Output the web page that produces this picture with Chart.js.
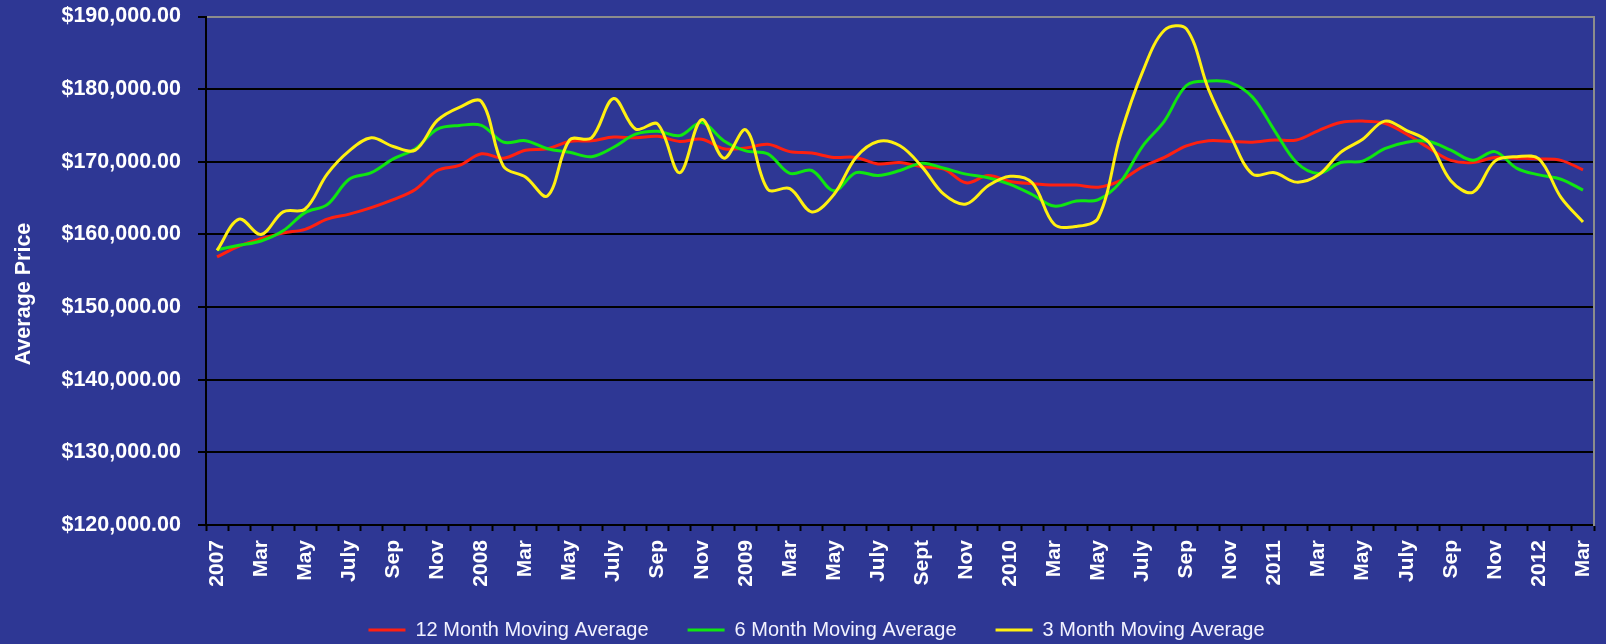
<!DOCTYPE html>
<html>
<head>
<meta charset="utf-8">
<script src="https://cdn.jsdelivr.net/npm/chart.js@4.4.1/dist/chart.umd.min.js"></script>
<style>
html,body{margin:0;padding:0;background:#2E3794;}
#wrap{width:1606px;height:644px;position:relative;}
canvas{display:block;background:#2E3794;}
</style>
</head>
<body>
<div id="wrap"><canvas id="c" width="1606" height="644"></canvas></div>
<script>
// ---- categories ----
const monthNames = ['Jan','Feb','Mar','Apr','May','Jun','Jul','Aug','Sep','Oct','Nov','Dec'];
const years = [2007, 2008, 2009, 2010, 2011, 2012];
const months = [];
years.forEach(function (y) {
  monthNames.forEach(function (m) {
    if (months.length < 63) months.push(m + ' ' + y);
  });
});

// ---- x tick labels (every second month) ----
const tickLabels = ['2007','Mar','May','July','Sep','Nov',
                    '2008','Mar','May','July','Sep','Nov',
                    '2009','Mar','May','July','Sept','Nov',
                    '2010','Mar','May','July','Sep','Nov',
                    '2011','Mar','May','July','Sep','Nov',
                    '2012','Mar'];

const seriesNames = ['12 Month Moving Average','6 Month Moving Average','3 Month Moving Average'];

// ---- series values ----
const avg12 = [156900,158400,159400,160200,160700,162100,162800,163700,164800,166200,168800,169500,
               171100,170500,171600,171800,172800,172900,173400,173300,173500,172800,173100,171800,
               171900,172400,171400,171200,170600,170600,169700,169900,169300,169000,167100,168100,
               167300,167000,166800,166800,166500,167400,169300,170600,172200,172900,172800,172700,
               173000,173000,174300,175400,175600,175300,173800,171900,170200,169900,170600,170500,
               170400,170200,168900];

const avg6 = [157900,158500,159100,160500,163000,164100,167600,168500,170400,171800,174500,175000,
              175000,172700,172900,171800,171300,170700,172000,173800,174200,173600,175400,172900,
              171500,171100,168400,168800,166000,168500,168100,168800,169800,169100,168300,167800,
              166900,165500,163900,164600,164800,167200,172100,175600,180500,181100,180900,178900,
              174300,169900,168400,169900,170100,171800,172700,172800,171600,170200,171400,169100,
              168200,167600,166100];

const avg3 = [157800,162100,160000,163100,163500,168300,171500,173300,172100,171600,175700,177500,
              178300,169400,167900,165300,173000,173300,178700,174500,175200,168500,175800,170500,
              174400,166200,166300,163100,165500,170600,172800,172200,169300,165500,164200,166700,
              168000,167100,161400,161100,162300,173600,182300,188100,188300,180000,173600,168300,
              168500,167200,168200,171300,173100,175600,174300,172700,167400,165800,170100,170700,
              170400,165100,161700];

const yTitle = 'Average Price';

// ---- styles ----
const FONT = "'Liberation Sans', Arial, sans-serif";
const colors = ['#FF2010', '#10E610', '#FFF010'];

Chart.defaults.font.family = FONT;
Chart.defaults.color = '#FFFFFF';

const yTitlePlugin = {
  id: 'yTitle',
  afterDraw(chart) {
    const ctx = chart.ctx;
    ctx.save();
    ctx.fillStyle = '#FFFFFF';
    ctx.font = "bold 21.5px " + FONT;
    ctx.textAlign = 'center';
    ctx.textBaseline = 'middle';
    ctx.translate(24, 294);
    ctx.rotate(-Math.PI / 2);
    ctx.fillText(yTitle, 0, 0);
    ctx.restore();
  }
};

const legendShift = {
  id: 'legendShift',
  afterLayout(chart) {
    if (chart.legend) {
      chart.legend.left += 27;
      chart.legend.top -= 8;
    }
  }
};

const datasets = [avg12, avg6, avg3].map(function (d, i) {
  return {
    label: seriesNames[i],
    data: d,
    borderColor: colors[i],
    backgroundColor: colors[i],
    borderWidth: 3,
    pointRadius: 0,
    pointHoverRadius: 0,
    tension: 0.35,
    fill: false,
    order: 3 - i
  };
});

new Chart(document.getElementById('c'), {
  type: 'line',
  data: { labels: months, datasets: datasets },
  options: {
    responsive: false,
    animation: false,
    events: [],
    layout: { padding: { top: 16.5, right: 0, left: 0, bottom: 0 } },
    plugins: {
      tooltip: { enabled: false },
      legend: {
        position: 'bottom',
        maxHeight: 55,
        labels: {
          boxWidth: 37,
          boxHeight: 3,
          padding: 39,
          color: '#F2F2FF',
          font: { size: 20, family: FONT },
          sort: function (a, b) { return a.datasetIndex - b.datasetIndex; },
          generateLabels: function (chart) {
            return Chart.defaults.plugins.legend.labels.generateLabels(chart).map(function (l) {
              l.lineWidth = 0;
              return l;
            });
          }
        }
      }
    },
    scales: {
      x: {
        offset: true,
        grid: { offset: true, drawOnChartArea: false, drawTicks: true, tickLength: 6, tickColor: '#000000', tickWidth: 2 },
        border: { color: '#000000', width: 2 },
        ticks: {
          autoSkip: false,
          maxRotation: 90,
          minRotation: 90,
          padding: 9,
          color: '#FFFFFF',
          font: { size: 21, weight: 'bold', family: FONT },
          callback: function (v, i) { return i % 2 === 0 ? tickLabels[i / 2] : ''; }
        },
        afterFit: function (s) { s.height = 64; s.paddingLeft = 0; s.paddingRight = 0; }
      },
      y: {
        min: 120000,
        max: 190000,
        ticks: {
          stepSize: 10000,
          padding: 17,
          color: '#FFFFFF',
          font: { size: 21.5, weight: 'bold', family: FONT },
          callback: function (v) {
            return '$' + Number(v).toLocaleString('en-US', { minimumFractionDigits: 2, maximumFractionDigits: 2 });
          }
        },
        grid: {
          color: function (c) { return (c.tick && c.tick.value === 190000) ? '#8C8C8C' : '#000000'; },
          lineWidth: 2,
          tickLength: 8,
          tickColor: '#000000',
          tickWidth: 2
        },
        border: { color: '#000000', width: 2 },
        afterFit: function (s) { s.width = 206; s.paddingTop = 0; s.paddingBottom = 0; }
      },
      y2: {
        position: 'right',
        min: 0,
        max: 1,
        grid: { drawOnChartArea: false, drawTicks: false },
        ticks: { display: false },
        border: { color: '#8C8C8C', width: 2 },
        afterFit: function (s) { s.width = 12; s.paddingTop = 0; s.paddingBottom = 0; }
      }
    }
  },
  plugins: [yTitlePlugin, legendShift]
});
</script>
</body>
</html>
